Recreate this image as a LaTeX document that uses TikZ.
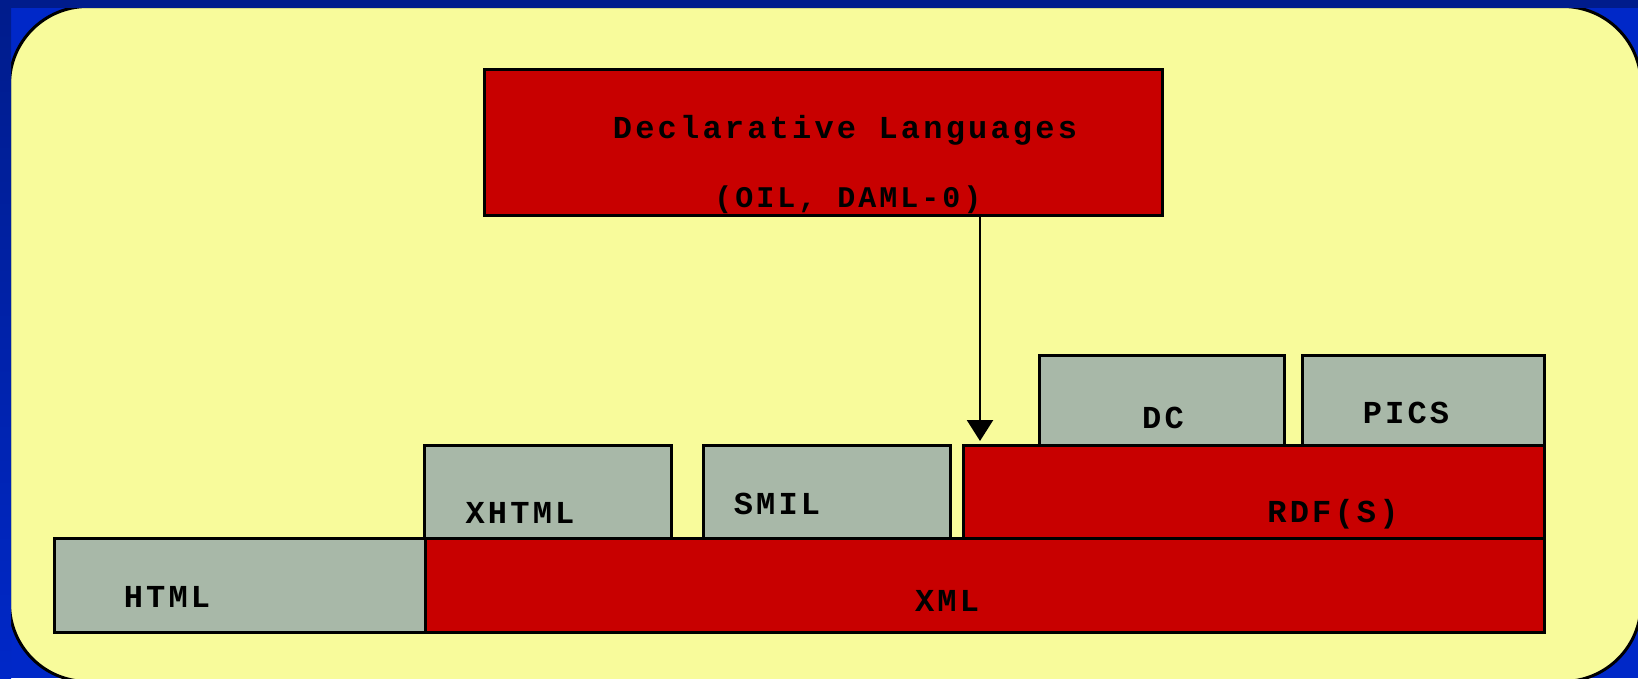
\documentclass[tikz,border=0pt]{standalone}
\usepackage{fontspec}
\usetikzlibrary{arrows.meta}
\newfontfamily\pxfont{Liberation Mono}[LetterSpace=10]
\definecolor{bgblue}{RGB}{0,40,200}
\definecolor{darkblue}{RGB}{0,28,140}
\definecolor{paper}{RGB}{248,251,155}
\definecolor{boxred}{RGB}{200,0,0}
\definecolor{boxgray}{RGB}{168,184,168}
\begin{document}
\begin{tikzpicture}[x=1pt,y=-1pt,
  box/.style={draw=black, line width=3pt, rectangle, inner sep=0pt, outer sep=0pt, anchor=north west},
  redbox/.style={box, fill=boxred},
  graybox/.style={box, fill=boxgray},
  lbl/.style={font=\pxfont\bfseries\fontsize{32}{36}\selectfont, anchor=base, inner sep=0pt, text=black},
  lblsmall/.style={lbl, font=\pxfont\bfseries\fontsize{30}{34}\selectfont}]
\useasboundingbox (0,0) rectangle (1638,678);
% background
\fill[bgblue] (0,0) rectangle (1638,678);
\draw[line width=3pt, fill=paper, rounded corners=78pt] (9.5,6.5) rectangle (1641,681.5);
\fill[darkblue] (0,0) rectangle (1638,8);
\shade[top color=darkblue, bottom color=bgblue] (0,8) rectangle (11,678);
% boxes
\node[redbox, minimum width=678pt, minimum height=146pt] (decl) at (484,69) {};
\node[graybox, minimum width=371pt, minimum height=94pt] (html) at (54,538) {};
\node[redbox, minimum width=1119pt, minimum height=94pt] (xml) at (425,538) {};
\node[graybox, minimum width=247pt, minimum height=93pt] (xhtml) at (424,445) {};
\node[graybox, minimum width=247pt, minimum height=93pt] (smil) at (703,445) {};
\node[redbox, minimum width=581pt, minimum height=93pt] (rdf) at (963,445) {};
\node[graybox, minimum width=245pt, minimum height=90pt] (dc) at (1039,355) {};
\node[graybox, minimum width=242pt, minimum height=90pt] (pics) at (1302,355) {};
% labels
\node[lbl] (tdecl) at (845,138) {Declarative Languages};
\node[lblsmall] (tdecl2) at (848,207) {(OIL, DAML-0)};
\node[lbl] (thtml) at (167,607) {HTML};
\node[lbl] (txml) at (947,611) {XML};
\node[lbl] (txhtml) at (520,523) {XHTML};
\node[lbl] (tsmil) at (777,514) {SMIL};
\node[lbl] (trdf) at (1333,522) {RDF(S)};
\node[lbl] (tdc) at (1163,428) {DC};
\node[lbl] (tpics) at (1406,423) {PICS};
% connector
\coordinate (ax) at (980,0);
\draw[line width=2.5pt, shorten >=4pt, -{Triangle[width=26pt,length=21pt]}] (decl.south -| ax) -- (rdf.north -| ax);
\end{tikzpicture}
\end{document}
